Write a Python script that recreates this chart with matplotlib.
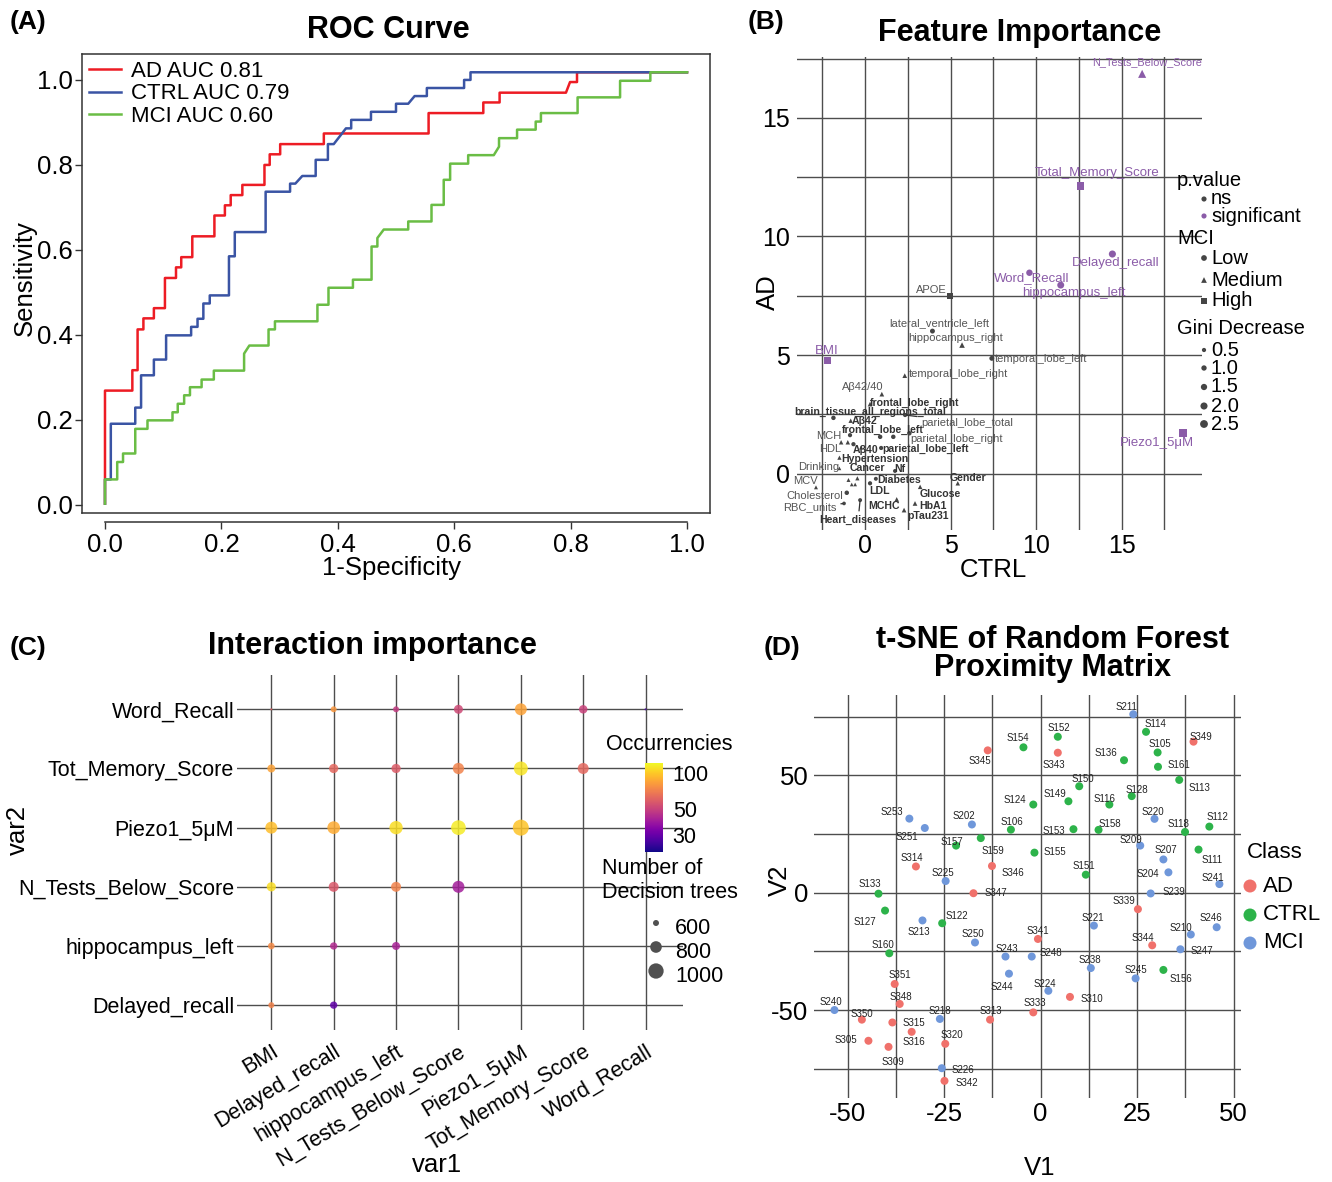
import numpy as np
import matplotlib
matplotlib.use('Agg')
import matplotlib.pyplot as plt
import matplotlib as mpl
from matplotlib.colors import LogNorm
from matplotlib.ticker import NullLocator

plt.rcParams['font.family'] = ['Liberation Sans', 'DejaVu Sans']
plt.rcParams['axes.unicode_minus'] = False

W, H, DPI = 1332, 1182, 100
PT = 72.0 / DPI

# ======================= DATA =======================
# (A) ROC curves (vertices of step curves)
roc_labels = ['AD AUC 0.81', 'CTRL AUC 0.79', 'MCI AUC 0.60']
ad_fpr = [0, 0, 0.047, 0.047, 0.056, 0.056, 0.066, 0.066, 0.084, 0.084, 0.103, 0.103, 0.122, 0.122,
          0.131, 0.131, 0.150, 0.150, 0.188, 0.188, 0.206, 0.206, 0.216, 0.216, 0.236, 0.236, 0.274,
          0.274, 0.283, 0.283, 0.301, 0.301, 0.376, 0.376, 0.556, 0.556, 0.650, 0.650, 0.678, 0.678,
          0.792, 0.799, 0.811, 0.811, 1.0]
ad_tpr = [0.003, 0.269, 0.269, 0.317, 0.317, 0.413, 0.413, 0.439, 0.439, 0.463, 0.463, 0.534, 0.534,
          0.559, 0.559, 0.583, 0.583, 0.632, 0.632, 0.681, 0.681, 0.705, 0.705, 0.729, 0.729, 0.753,
          0.753, 0.800, 0.800, 0.825, 0.825, 0.849, 0.849, 0.874, 0.874, 0.922, 0.922, 0.947, 0.947,
          0.970, 0.970, 0.995, 0.995, 1.018, 1.018]
ctrl_fpr = [0, 0, 0.010, 0.010, 0.052, 0.052, 0.062, 0.062, 0.084, 0.084, 0.105, 0.105, 0.148, 0.148,
            0.159, 0.159, 0.169, 0.169, 0.180, 0.180, 0.213, 0.213, 0.223, 0.223, 0.276, 0.276, 0.318,
            0.318, 0.327, 0.339, 0.362, 0.362, 0.383, 0.383, 0.393, 0.414, 0.423, 0.423, 0.457, 0.457,
            0.500, 0.500, 0.521, 0.532, 0.553, 0.553, 0.617, 0.617, 0.628, 0.628, 1.0]
ctrl_tpr = [0.003, 0.060, 0.060, 0.191, 0.191, 0.229, 0.229, 0.305, 0.305, 0.342, 0.342, 0.399, 0.399,
            0.419, 0.419, 0.438, 0.438, 0.474, 0.474, 0.493, 0.493, 0.585, 0.585, 0.642, 0.642, 0.737,
            0.737, 0.756, 0.756, 0.774, 0.774, 0.812, 0.812, 0.849, 0.849, 0.886, 0.886, 0.906, 0.906,
            0.925, 0.925, 0.944, 0.944, 0.962, 0.962, 0.981, 0.981, 1.000, 1.000, 1.018, 1.018]
mci_fpr = [0, 0, 0.021, 0.021, 0.031, 0.031, 0.052, 0.052, 0.073, 0.073, 0.116, 0.116, 0.125, 0.125,
           0.136, 0.136, 0.146, 0.146, 0.166, 0.166, 0.187, 0.187, 0.239, 0.239, 0.248, 0.281, 0.281,
           0.292, 0.292, 0.365, 0.365, 0.384, 0.384, 0.426, 0.426, 0.458, 0.458, 0.468, 0.468, 0.479,
           0.521, 0.521, 0.561, 0.561, 0.582, 0.582, 0.593, 0.593, 0.624, 0.624, 0.668, 0.677, 0.677,
           0.708, 0.708, 0.740, 0.740, 0.749, 0.749, 0.812, 0.812, 0.885, 0.885, 0.937, 0.937, 1.0]
mci_tpr = [0.003, 0.060, 0.060, 0.101, 0.101, 0.121, 0.121, 0.179, 0.179, 0.199, 0.199, 0.218, 0.218,
           0.238, 0.238, 0.258, 0.258, 0.277, 0.277, 0.295, 0.295, 0.316, 0.316, 0.356, 0.375, 0.375,
           0.413, 0.413, 0.432, 0.432, 0.471, 0.471, 0.511, 0.511, 0.530, 0.530, 0.608, 0.608, 0.628,
           0.648, 0.648, 0.667, 0.667, 0.706, 0.706, 0.765, 0.765, 0.803, 0.803, 0.823, 0.823, 0.843,
           0.863, 0.863, 0.883, 0.883, 0.902, 0.902, 0.922, 0.922, 0.959, 0.959, 0.998, 0.998, 1.018, 1.018]

# (B) Feature importance
feat_names = ['N_Tests_Below_Score', 'Total_Memory_Score', 'Delayed_recall', 'Word_Recall',
              'hippocampus_left', 'APOE', 'lateral_ventricle_left', 'hippocampus_right', 'BMI',
              'temporal_lobe_left', 'temporal_lobe_right', 'Piezo1_5μM', 'Aβ42/40', 'frontal_lobe_right',
              'brain_tissue_all_regions_total', 'Aβ42', 'frontal_lobe_left', 'parietal_lobe_total',
              'parietal_lobe_right', 'MCH', 'HDL', 'Aβ40', 'parietal_lobe_left', 'Hypertension',
              'Drinking', 'Cancer', 'Nf', 'Diabetes', 'LDL', 'MCV', 'Cholesterol', 'Glucose', 'Gender',
              'RBC_units', 'MCHC', 'HbA1', 'pTau231', 'Heart_diseases']
feat_ctrl = [16.2, 12.61, 14.46, 9.61, 11.44, 4.97, 3.94, 5.67, -2.18, 7.41, 2.32, 18.6, 0.98, 0.29,
             -1.85, -0.84, 0.88, 2.34, 1.65, -1.40, -0.68, -0.23, 0.94, -1.50, -1.50, -0.45, 1.75,
             0.63, 0.29, -2.87, -1.07, 3.22, 5.42, -1.23, 1.85, 2.92, 2.28, -0.29]
feat_ad = [16.86, 12.13, 9.26, 8.47, 7.95, 7.50, 6.01, 5.42, 4.76, 4.86, 4.13, 1.71, 3.35, 2.93,
           2.35, 2.23, 1.55, 2.47, 1.55, 1.32, 1.24, 1.10, 1.08, 0.67, 0.22, -0.20, 0.11,
           -0.22, -0.41, -0.58, -0.81, -0.56, -0.41, -1.26, -1.09, -1.26, -1.54, -1.12]
feat_mci = ['Medium', 'High', 'Low', 'Low', 'Low', 'High', 'Low', 'Medium', 'High', 'Low', 'Medium',
            'High', 'Medium', 'Medium', 'Low', 'Medium', 'Low', 'Low', 'Low', 'Medium', 'Low', 'Medium',
            'Low', 'Medium', 'Medium', 'Medium', 'Low', 'Low', 'Low', 'Medium', 'Low', 'Medium', 'Medium',
            'Low', 'Medium', 'Medium', 'Medium', 'Low']
feat_pval = ['significant'] * 5 + ['ns'] * 3 + ['significant'] + ['ns'] * 2 + ['significant'] + ['ns'] * 26
feat_gini = [2.7, 2.2, 2.0, 1.6, 1.9, 1.5, 0.8, 1.1, 1.8, 0.8, 0.7, 2.4, 0.7, 0.7, 0.6, 0.6, 0.6, 0.5,
             0.6, 0.6, 0.5, 0.5, 0.5, 0.5, 0.3, 0.5, 0.4, 0.4, 0.5, 0.4, 0.6, 0.6, 0.6, 0.3, 0.7, 0.7,
             0.7, 0.4]
# unlabeled features in the crowded corner
extra_ctrl = [-0.88, -1.01, 2.59, -0.97, -0.78, -0.58]
extra_ad = [1.62, 1.32, 1.70, -0.27, -0.46, -0.46]
extra_mci = ['Low', 'Medium', 'Low', 'Medium', 'Medium', 'Medium']
extra_gini = [0.5, 0.6, 0.6, 0.4, 0.3, 0.3]

# (C) Interaction importance
var1_levels = ['BMI', 'Delayed_recall', 'hippocampus_left', 'N_Tests_Below_Score', 'Piezo1_5μM',
               'Tot_Memory_Score', 'Word_Recall']
var2_levels = ['Delayed_recall', 'hippocampus_left', 'N_Tests_Below_Score', 'Piezo1_5μM',
               'Tot_Memory_Score', 'Word_Recall']
int_var1 = ['BMI', 'Delayed_recall', 'hippocampus_left', 'N_Tests_Below_Score', 'Piezo1_5μM',
            'Tot_Memory_Score', 'Word_Recall',
            'BMI', 'Delayed_recall', 'hippocampus_left', 'N_Tests_Below_Score', 'Piezo1_5μM',
            'Tot_Memory_Score',
            'BMI', 'Delayed_recall', 'hippocampus_left', 'N_Tests_Below_Score', 'Piezo1_5μM',
            'BMI', 'Delayed_recall', 'hippocampus_left', 'N_Tests_Below_Score',
            'BMI', 'Delayed_recall', 'hippocampus_left',
            'BMI', 'Delayed_recall']
int_var2 = ['Word_Recall'] * 7 + ['Tot_Memory_Score'] * 6 + ['Piezo1_5μM'] * 5 + \
           ['N_Tests_Below_Score'] * 4 + ['hippocampus_left'] * 3 + ['Delayed_recall'] * 2
int_trees = [536, 600, 600, 691, 818, 672, 536,
             657, 700, 700, 785, 923, 772,
             818, 853, 884, 963, 1043,
             700, 729, 729, 818,
             618, 635, 657,
             600, 635]
int_occ = [60, 80, 48, 52, 85, 50, 26,
           85, 62, 58, 72, 112, 62,
           95, 88, 108, 115, 98,
           108, 57, 72, 40,
           75, 43, 41,
           72, 29]
occ_ticks = [30, 50, 100]
tree_ticks = [600, 800, 1000]

# (D) t-SNE
tsne_names = ['S211', 'S114', 'S349', 'S152', 'S154', 'S345', 'S343', 'S136', 'S105', 'S161', 'S113',
              'S150', 'S149', 'S124', 'S116', 'S128', 'S220', 'S112', 'S118', 'S253', 'S251', 'S202',
              'S106', 'S153', 'S158', 'S157', 'S159', 'S209', 'S207', 'S111', 'S346', 'S155', 'S314',
              'S225', 'S151', 'S204', 'S241', 'S133', 'S347', 'S239', 'S339', 'S127', 'S213', 'S122',
              'S250', 'S341', 'S221', 'S210', 'S246', 'S344', 'S247', 'S160', 'S243', 'S248', 'S238',
              'S245', 'S156', 'S244', 'S224', 'S310', 'S351', 'S348', 'S240', 'S350', 'S315', 'S316',
              'S305', 'S309', 'S218', 'S313', 'S333', 'S320', 'S226', 'S342']
tsne_v1 = [24.0, 27.3, 39.6, 4.45, -4.45, -13.7, 4.45, 21.6, 30.3, 30.4, 35.9,
           10.0, 7.2, -1.9, 17.8, 23.6, 29.5, 43.7, 37.4, -34.0, -30.0, -17.8,
           -7.7, 8.5, 15.0, -21.9, -15.5, 25.8, 31.8, 40.9, -12.6, -1.6, -32.3,
           -24.6, 11.7, 33.1, 46.3, -42.0, -17.4, 28.5, 25.2, -40.3, -30.6, -25.5,
           -17.0, -0.7, 13.8, 38.9, 45.6, 28.9, 36.2, -39.2, -9.1, -2.3, 13.0,
           24.6, 31.8, -8.2, 2.0, 7.6, -37.8, -36.5, -53.4, -46.3, -38.4, -33.4,
           -44.6, -39.4, -26.1, -13.1, -1.9, -24.7, -25.6, -24.9]
tsne_v2 = [76.1, 68.6, 64.4, 66.5, 62.0, 60.7, 59.7, 56.5, 59.8, 53.7, 48.1,
           45.4, 39.0, 37.6, 37.6, 41.2, 31.5, 28.2, 25.9, 31.6, 27.6, 29.1,
           26.9, 27.1, 26.8, 20.1, 23.3, 20.1, 14.2, 18.4, 11.4, 17.1, 11.2,
           5.0, 7.7, 8.7, 3.7, -0.4, -0.2, -0.3, -7.0, -7.6, -11.8, -13.0,
           -21.2, -19.7, -14.0, -17.8, -14.7, -22.4, -24.1, -25.8, -27.2, -27.2, -32.1,
           -36.5, -32.9, -34.5, -41.8, -44.4, -38.9, -47.4, -50.0, -54.1, -55.3, -59.3,
           -63.1, -65.7, -53.8, -54.1, -51.0, -64.4, -74.8, -80.2]
tsne_class = ['AD' if n.startswith('S3') else ('CTRL' if n.startswith('S1') else 'MCI') for n in tsne_names]
class_levels = ['AD', 'CTRL', 'MCI']

# ======================= LAYOUT / STYLE =======================
GRID = '#4d4d4d'
PURPLE = '#8B5CA8'
NSCOL = '#454545'
CLASS_COL = {'AD': '#F0716B', 'CTRL': '#2DB34A', 'MCI': '#6F97DA'}
MARK = {'Low': 'o', 'Medium': '^', 'High': 's'}

# label offsets in pixels (dx right, dy down), font size, bold, connector
B_LAB = {
    'N_Tests_Below_Score': (5, -12, 7.8, False, False),
    'Total_Memory_Score': (16, -13, 9.5, False, False),
    'Delayed_recall': (3, 9, 9.5, False, False),
    'Word_Recall': (2, 5, 9.5, False, False),
    'hippocampus_left': (13, 8, 9.5, False, False),
    'APOE': (-19, -6, 8, False, False),
    'lateral_ventricle_left': (7, -8, 8, False, False),
    'hippocampus_right': (-6, -7, 8, False, False),
    'BMI': (-1, -10, 9.5, False, False),
    'temporal_lobe_left': (49, 1, 8, False, False),
    'temporal_lobe_right': (54, -2, 8, False, False),
    'Piezo1_5μM': (-26, 10, 9.5, False, False),
    'Aβ42/40': (-19, -7, 8, False, False),
    'frontal_lobe_right': (45, -1, 7.6, True, False),
    'brain_tissue_all_regions_total': (37, -6, 7.6, True, False),
    'Aβ42': (14, 0, 7.6, True, False),
    'frontal_lobe_left': (3, -7, 7.6, True, False),
    'parietal_lobe_total': (62, 8, 8, False, True),
    'parietal_lobe_right': (63, 2, 8, False, False),
    'MCH': (-12, -6, 8, False, False),
    'HDL': (-23, 5, 8, False, False),
    'Aβ40': (4, 3, 7.6, True, False),
    'parietal_lobe_left': (44, 1, 7.6, True, False),
    'Hypertension': (35, 1, 7.6, True, False),
    'Drinking': (-21, -1, 8, False, False),
    'Cancer': (10, -10, 7.6, True, False),
    'Nf': (5, -2, 7.6, True, False),
    'Diabetes': (23, 1, 7.6, True, False),
    'LDL': (10, 8, 7.6, True, False),
    'MCV': (-11, -6, 8, False, False),
    'Cholesterol': (-32, 3, 8, False, False),
    'Glucose': (20, 7, 7.6, True, False),
    'Gender': (10, -5, 7.6, True, False),
    'RBC_units': (-34, 4, 8, False, True),
    'MCHC': (-13, 7, 7.6, True, False),
    'HbA1': (18, 3, 7.6, True, False),
    'pTau231': (24, 6, 7.6, True, False),
    'Heart_diseases': (-2, 20, 7.6, True, True),
}
D_LAB = {
    'S211': (-7, -7), 'S114': (9, -8), 'S349': (7, -5), 'S152': (1, -9), 'S154': (-6, -9),
    'S345': (-8, 11), 'S343': (-4, 12), 'S136': (-18, -7), 'S105': (2, -8), 'S161': (21, -2),
    'S113': (20, 8), 'S150': (4, -7), 'S149': (-13, -7), 'S124': (-18, -5), 'S116': (-5, -6),
    'S128': (5, -6), 'S220': (-2, -7), 'S112': (8, -10), 'S118': (-7, -8), 'S253': (-17, -7),
    'S251': (-18, 9), 'S202': (-8, -8), 'S106': (1, -8), 'S153': (-20, 2), 'S158': (11, -6),
    'S157': (-4, -4), 'S159': (12, 13), 'S209': (-9, -6), 'S207': (2, -9), 'S111': (14, 10),
    'S346': (21, 7), 'S155': (20, -1), 'S314': (-4, -8), 'S225': (-3, -8), 'S151': (-2, -9),
    'S204': (-21, 2), 'S241': (-7, -6), 'S133': (-9, -10), 'S347': (22, 0), 'S239': (23, -1),
    'S339': (-14, -8), 'S127': (-20, 11), 'S213': (-4, 12), 'S122': (15, -7), 'S250': (-2, -8),
    'S341': (0, -8), 'S221': (-1, -8), 'S210': (-10, -7), 'S246': (-6, -9), 'S344': (-9, -7),
    'S247': (21, 2), 'S160': (-6, -8), 'S243': (1, -8), 'S248': (19, -4), 'S238': (-1, -8),
    'S245': (0, -8), 'S156': (18, 9), 'S244': (-7, 13), 'S224': (-3, -7), 'S310': (22, 2),
    'S351': (5, -9), 'S348': (1, -7), 'S240': (-4, -8), 'S350': (0, -6), 'S315': (22, 1),
    'S316': (2, 10), 'S305': (-23, -1), 'S309': (4, 15), 'S218': (0, -8), 'S313': (1, -9),
    'S333': (2, -9), 'S320': (7, -9), 'S226': (21, 2), 'S342': (22, 2),
}


def rect(x0, y0, x1, y1):
    return [x0 / W, 1 - y1 / H, (x1 - x0) / W, (y1 - y0) / H]


def s_from_diam(d):
    return (d * PT) ** 2


def size_B(g):
    area = max(14.0 + 17.0 * (g - 0.5), 5.0)
    return s_from_diam(np.sqrt(4 * area / np.pi))


def size_C(v):
    area = max(0.39 * (v - 528), 3.0)
    return s_from_diam(np.sqrt(4 * area / np.pi))


fig = plt.figure(figsize=(W / DPI, H / DPI), dpi=DPI)

# ======================= PANEL A =======================
axA = fig.add_axes(rect(82, 54, 710, 513))
axA.plot(ad_fpr, ad_tpr, color='#ED1C24', lw=1.8, label=roc_labels[0])
axA.plot(ctrl_fpr, ctrl_tpr, color='#3A54A4', lw=1.8, label=roc_labels[1])
axA.plot(mci_fpr, mci_tpr, color='#6ABD45', lw=1.8, label=roc_labels[2])
axA.set_xlim(-0.0395, 1.0395)
axA.set_ylim(-0.019, 1.061)
ticksA = [0.0, 0.2, 0.4, 0.6, 0.8, 1.0]
axA.set_xticks(ticksA)
axA.set_xticklabels(['%.1f' % t for t in ticksA])
axA.set_yticks(ticksA)
axA.set_yticklabels(['%.1f' % t for t in ticksA])
for sp in axA.spines.values():
    sp.set_color('#333333')
    sp.set_linewidth(1.1)
axA.spines['bottom'].set_position(('outward', 9 * PT))
axA.spines['bottom'].set_bounds(0, 1)
axA.plot([0, 1], [0, 0], transform=axA.transAxes, color='#333333', lw=1.1, clip_on=False)
axA.tick_params(axis='both', labelsize=18.5, color='#333333', width=1.0, length=5)
axA.tick_params(axis='x', pad=3)
axA.tick_params(axis='y', pad=1.5)
axA.legend(loc='upper left', bbox_to_anchor=(0.0, 1.0), frameon=False, fontsize=16,
           handlelength=1.45, handletextpad=0.45, labelspacing=0.08, borderaxespad=0.1,
           borderpad=0.2)

# ======================= PANEL B =======================
axB = fig.add_axes(rect(797, 57, 1202, 530))
axB.set_xlim(-3.98, 19.7)
axB.set_ylim(-2.38, 17.57)
for sp in axB.spines.values():
    sp.set_visible(False)
axB.set_xticks([0, 5, 10, 15])
axB.set_xticks([-2.5, 2.5, 7.5, 12.5, 17.5], minor=True)
axB.set_yticks([0, 5, 10, 15])
axB.set_yticks([2.5, 7.5, 12.5, 17.5], minor=True)
axB.grid(which='both', color=GRID, lw=1.0)
axB.set_axisbelow(True)
axB.tick_params(which='both', length=0, labelsize=18)
axB.tick_params(axis='x', pad=3)
axB.tick_params(axis='y', pad=5)

for cx, cy, m, g in zip(extra_ctrl, extra_ad, extra_mci, extra_gini):
    axB.scatter([cx], [cy], marker=MARK[m], s=size_B(g), color=NSCOL, edgecolors='none', zorder=3)
for name, cx, cy, m, p, g in zip(feat_names, feat_ctrl, feat_ad, feat_mci, feat_pval, feat_gini):
    col = PURPLE if p == 'significant' else NSCOL
    axB.scatter([cx], [cy], marker=MARK[m], s=size_B(g), color=col, edgecolors='none', zorder=3)
    dx, dy, fs, bold, seg = B_LAB[name]
    tcol = PURPLE if p == 'significant' else ('#333333' if bold else '#555555')
    kw = {}
    if seg:
        kw['arrowprops'] = dict(arrowstyle='-', color='#333333', lw=0.9, shrinkA=1, shrinkB=1)
    axB.annotate(name, (cx, cy), xytext=(dx * PT, -dy * PT), textcoords='offset points',
                 ha='center', va='center', fontsize=fs, color=tcol,
                 fontweight='bold' if bold else 'normal', zorder=4, **kw)

# ======================= PANEL C =======================
axC = fig.add_axes(rect(237, 675, 683, 1030))
axC.set_xlim(0.45, 7.6)
axC.set_ylim(0.58, 6.58)
for sp in axC.spines.values():
    sp.set_visible(False)
axC.set_xticks(range(1, 8))
axC.set_xticklabels(var1_levels, rotation=31, ha='right', va='top', rotation_mode='anchor')
axC.set_yticks(range(1, 7))
axC.set_yticklabels(var2_levels)
axC.grid(which='major', color=GRID, lw=1.0)
axC.set_axisbelow(True)
axC.tick_params(length=0, labelsize=15.5)
axC.tick_params(axis='y', pad=2)
axC.tick_params(axis='x', pad=8)
normC = LogNorm(vmin=21.5, vmax=122)
xc = [var1_levels.index(v) + 1 for v in int_var1]
yc = [var2_levels.index(v) + 1 for v in int_var2]
axC.scatter(xc, yc, s=[size_C(v) for v in int_trees], c=int_occ, cmap='plasma', norm=normC,
            alpha=0.85, edgecolors='none', zorder=3)

cax = fig.add_axes(rect(645, 763, 663, 852))
cb = mpl.colorbar.ColorbarBase(cax, cmap=plt.get_cmap('plasma'), norm=normC, orientation='vertical')
cb.outline.set_visible(False)
cax.yaxis.set_minor_locator(NullLocator())
cb.set_ticks(occ_ticks)
cb.set_ticklabels([str(t) for t in occ_ticks])
cax.tick_params(length=0, labelsize=15.5, pad=7)

# ======================= PANEL D =======================
axD = fig.add_axes(rect(814, 695, 1241, 1098))
axD.set_xlim(-58.7, 51.9)
axD.set_ylim(-87.5, 84.3)
for sp in axD.spines.values():
    sp.set_visible(False)
axD.set_xticks([-50, -25, 0, 25, 50])
axD.set_xticks([-37.5, -12.5, 12.5, 37.5], minor=True)
axD.set_yticks([-50, 0, 50])
axD.set_yticks([-75, -25, 25, 75], minor=True)
axD.grid(which='both', color=GRID, lw=1.0)
axD.set_axisbelow(True)
axD.tick_params(which='both', length=0, labelsize=18.5)
axD.tick_params(axis='x', pad=3)
axD.tick_params(axis='y', pad=4)
axD.scatter(tsne_v1, tsne_v2, s=s_from_diam(8), c=[CLASS_COL[c] for c in tsne_class],
            edgecolors='none', zorder=3)
for n, a, b in zip(tsne_names, tsne_v1, tsne_v2):
    dx, dy = D_LAB[n]
    axD.annotate(n, (a, b), xytext=(dx * PT, -dy * PT), textcoords='offset points',
                 ha='center', va='center', fontsize=7, color='#222222', zorder=4)

# ======================= OVERLAY (titles, axis labels, legends) =======================
ov = fig.add_axes([0, 0, 1, 1], facecolor='none')
ov.set_xlim(0, W)
ov.set_ylim(H, 0)
ov.axis('off')

for txt, x, y in [('(A)', 10, 22), ('(B)', 748, 22), ('(C)', 10, 648), ('(D)', 764, 648)]:
    ov.text(x, y, txt, fontsize=19, fontweight='bold', ha='left', va='center')
ov.text(388, 30, 'ROC Curve', fontsize=22, fontweight='bold', ha='center', va='center')
ov.text(1020, 33, 'Feature Importance', fontsize=22, fontweight='bold', ha='center', va='center')
ov.text(372, 646, 'Interaction importance', fontsize=22, fontweight='bold', ha='center', va='center')
ov.text(1053, 640, 't-SNE of Random Forest', fontsize=22, fontweight='bold', ha='center', va='center')
ov.text(1053, 668, 'Proximity Matrix', fontsize=22, fontweight='bold', ha='center', va='center')

ax_lab = [('Sensitivity', 25, 278, 90), ('1-Specificity', 392, 568, 0), ('AD', 768, 292, 90),
          ('CTRL', 993, 570, 0), ('var2', 18, 830, 90), ('var1', 437, 1165, 0),
          ('V2', 780, 880, 90), ('V1', 1040, 1168, 0)]
for txt, x, y, r in ax_lab:
    ov.text(x, y, txt, fontsize=18.5, rotation=r, ha='center', va='center')

# legend B
LFS = 14.5
ov.text(1177, 181, 'p.value', fontsize=LFS, ha='left', va='center')
ov.scatter([1204], [199], s=size_B(0.9), color=NSCOL, marker='o', edgecolors='none')
ov.text(1211, 199, 'ns', fontsize=LFS, ha='left', va='center')
ov.scatter([1204], [216], s=size_B(0.9), color=PURPLE, marker='o', edgecolors='none')
ov.text(1211, 216, 'significant', fontsize=LFS, ha='left', va='center')
ov.text(1177, 238, 'MCI', fontsize=LFS, ha='left', va='center')
for lev, y in zip(['Low', 'Medium', 'High'], [258, 280, 301]):
    ov.scatter([1204], [y], s=size_B(1.2), color=NSCOL, marker=MARK[lev], edgecolors='none')
    ov.text(1211, y, lev, fontsize=LFS, ha='left', va='center')
ov.text(1177, 329, 'Gini Decrease', fontsize=LFS, ha='left', va='center')
for g, y in zip([0.5, 1.0, 1.5, 2.0, 2.5], [350, 368, 387, 406, 424]):
    ov.scatter([1204], [y], s=size_B(g), color=NSCOL, marker='o', edgecolors='none')
    ov.text(1211, y, '%.1f' % g, fontsize=LFS, ha='left', va='center')

# legend C
ov.text(606, 745, 'Occurrencies', fontsize=15.5, ha='left', va='center')
ov.text(602, 869, 'Number of', fontsize=15.5, ha='left', va='center')
ov.text(602, 892, 'Decision trees', fontsize=15.5, ha='left', va='center')
for v, y in zip(tree_ticks, [923, 947, 971]):
    ov.scatter([656], [y], s=size_C(v), color='#505050', edgecolors='none')
    ov.text(675, y + 6, str(v), fontsize=15.5, ha='left', va='center')

# legend D
ov.text(1247, 852, 'Class', fontsize=16, ha='left', va='center')
for c, y in zip(class_levels, [886, 915, 943]):
    ov.scatter([1250], [y], s=s_from_diam(13), color=CLASS_COL[c], edgecolors='none')
    ov.text(1263, y, c, fontsize=16, ha='left', va='center')

fig.savefig('out.png', dpi=DPI)
